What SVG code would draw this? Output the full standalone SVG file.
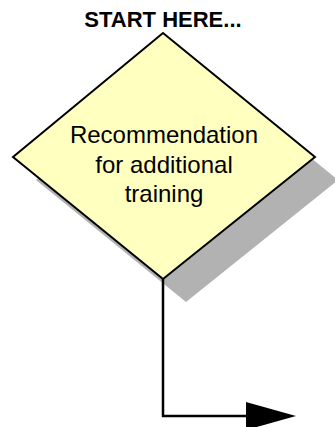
<svg xmlns="http://www.w3.org/2000/svg" width="335" height="427" viewBox="0 0 335 427">
<style>
.lbl{font-family:"Liberation Sans",Arial,sans-serif;fill:#000;text-anchor:middle}
.title{font-size:22px;font-weight:bold}
.body{font-size:24px}
.conn{stroke:#000;stroke-width:2.5;fill:none}
</style>
<defs>
<marker id="ah" viewBox="0 0 50 28" refX="0" refY="14" markerWidth="50" markerHeight="28" markerUnits="userSpaceOnUse" orient="auto">
<path d="M0,0 L50,14 L0,28 Z" fill="#000"/>
</marker>
</defs>
<text class="lbl title" x="163" y="27">START HERE...</text>
<g id="decision">
<polygon points="186,56 338,180 186,302 36,180" fill="#b2b2b2"/>
<polygon points="163,33 315,157 163,279 13,157" fill="#ffffc0" stroke="#000" stroke-width="2"/>
<text class="lbl body" x="164" y="143">Recommendation</text>
<text class="lbl body" x="164" y="173">for additional</text>
<text class="lbl body" x="164" y="202">training</text>
</g>
<g id="connectors">
<path class="conn" d="M163,279 V416 H246" marker-end="url(#ah)"/>
</g>
</svg>
